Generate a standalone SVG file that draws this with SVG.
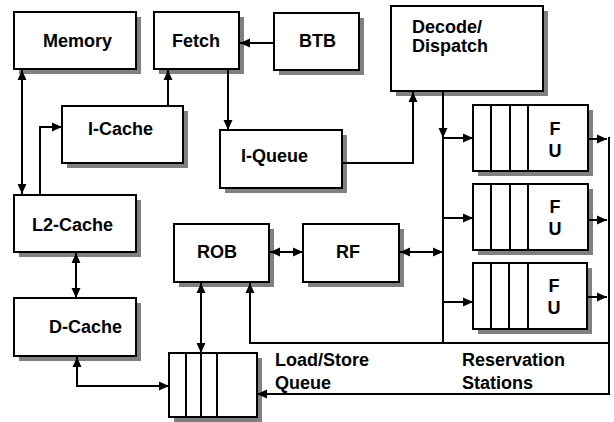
<svg xmlns="http://www.w3.org/2000/svg" width="614" height="422" viewBox="0 0 614 422">
<defs>
<marker id="ah" markerUnits="userSpaceOnUse" markerWidth="10" markerHeight="10" viewBox="0 0 9 8" refX="9" refY="4" orient="auto-start-reverse">
<path d="M0,0 L9,4 L0,8 z" fill="#000"/>
</marker>
</defs>
<style>
.sh{fill:#808080;stroke:none}
.bx{fill:#fff;stroke:#000;stroke-width:2}
.dv{stroke:#000;stroke-width:2}
.t{font-family:"Liberation Sans",Arial,sans-serif;font-weight:bold;font-size:18px;fill:#000}
.c{fill:none;stroke:#000;stroke-width:2}
.a{marker-end:url(#ah)}
.b{marker-start:url(#ah);marker-end:url(#ah)}
</style>
<rect width="614" height="422" fill="#fff"/>

<g id="memory">
<rect class="sh" x="19" y="17" width="122" height="57"/>
<rect class="bx" x="14" y="12" width="122" height="57"/>
<text class="t" x="43" y="47">Memory</text>
</g>
<g id="fetch">
<rect class="sh" x="159" y="17" width="85" height="57"/>
<rect class="bx" x="154" y="12" width="85" height="57"/>
<text class="t" x="172" y="47">Fetch</text>
</g>
<g id="btb">
<rect class="sh" x="279" y="18" width="85" height="57"/>
<rect class="bx" x="274" y="13" width="85" height="57"/>
<text class="t" x="299" y="47">BTB</text>
</g>
<g id="decode">
<rect class="sh" x="396" y="11" width="152" height="85"/>
<rect class="bx" x="391" y="6" width="152" height="85"/>
<text class="t" x="412" y="33">Decode/</text>
<text class="t" x="412" y="52">Dispatch</text>
</g>
<g id="icache">
<rect class="sh" x="67" y="111" width="121" height="57"/>
<rect class="bx" x="62" y="106" width="121" height="57"/>
<text class="t" x="88" y="135">I-Cache</text>
</g>
<g id="iqueue">
<rect class="sh" x="225" y="135" width="122" height="58"/>
<rect class="bx" x="220" y="130" width="122" height="58"/>
<text class="t" x="241" y="162">I-Queue</text>
</g>
<g id="l2cache">
<rect class="sh" x="19" y="200" width="122" height="57"/>
<rect class="bx" x="14" y="195" width="122" height="57"/>
<text class="t" x="32" y="231">L2-Cache</text>
</g>
<g id="dcache">
<rect class="sh" x="19" y="303" width="122" height="58"/>
<rect class="bx" x="14" y="298" width="122" height="58"/>
<text class="t" x="49" y="333">D-Cache</text>
</g>
<g id="rob">
<rect class="sh" x="179" y="229" width="95" height="58"/>
<rect class="bx" x="174" y="224" width="95" height="58"/>
<text class="t" x="197" y="258">ROB</text>
</g>
<g id="rf">
<rect class="sh" x="308" y="229" width="96" height="58"/>
<rect class="bx" x="303" y="224" width="96" height="58"/>
<text class="t" x="336" y="258">RF</text>
</g>
<g id="fu1">
<rect class="sh" x="478" y="110" width="115" height="66"/>
<rect class="bx" x="473" y="105" width="115" height="66"/>
<line class="dv" x1="491" y1="105" x2="491" y2="171"/>
<line class="dv" x1="510" y1="105" x2="510" y2="171"/>
<line class="dv" x1="528" y1="105" x2="528" y2="171"/>
<text class="t" x="555" y="135" text-anchor="middle">F</text>
<text class="t" x="555" y="157" text-anchor="middle">U</text>
</g>
<g id="fu2">
<rect class="sh" x="478" y="189" width="115" height="66"/>
<rect class="bx" x="473" y="184" width="115" height="66"/>
<line class="dv" x1="491" y1="184" x2="491" y2="250"/>
<line class="dv" x1="510" y1="184" x2="510" y2="250"/>
<line class="dv" x1="528" y1="184" x2="528" y2="250"/>
<text class="t" x="555" y="213" text-anchor="middle">F</text>
<text class="t" x="555" y="235" text-anchor="middle">U</text>
</g>
<g id="fu3">
<rect class="sh" x="478" y="268" width="114" height="66"/>
<rect class="bx" x="473" y="263" width="114" height="66"/>
<line class="dv" x1="491" y1="263" x2="491" y2="329"/>
<line class="dv" x1="509" y1="263" x2="509" y2="329"/>
<line class="dv" x1="528" y1="263" x2="528" y2="329"/>
<text class="t" x="554" y="292" text-anchor="middle">F</text>
<text class="t" x="554" y="314" text-anchor="middle">U</text>
</g>
<g id="lsq">
<rect class="sh" x="174" y="358" width="88" height="64"/>
<rect class="bx" x="169" y="353" width="88" height="64"/>
<line class="dv" x1="186" y1="353" x2="186" y2="417"/>
<line class="dv" x1="201" y1="353" x2="201" y2="417"/>
<line class="dv" x1="217" y1="353" x2="217" y2="417"/>
</g>
<g id="labels">
<text class="t" x="275" y="366">Load/Store</text>
<text class="t" x="275" y="389">Queue</text>
<text class="t" x="462" y="366">Reservation</text>
<text class="t" x="462" y="389">Stations</text>
</g>

<g id="connectors">
<path class="c a" d="M274,43 H240"/>
<path class="c b" d="M22,70 V194"/>
<path class="c a" d="M168,106 V70"/>
<path class="c a" d="M40,195 V127 H62"/>
<path class="c a" d="M228,69 V130"/>
<path class="c a" d="M342,163 H413 V92"/>
<path class="c a" d="M443,91 V138"/>
<path class="c" d="M443,137 V343"/>
<path class="c a" d="M443,138 H473"/>
<path class="c a" d="M443,218 H473"/>
<path class="c a" d="M443,302 H473"/>
<path class="c b" d="M400,252 H443"/>
<path class="c b" d="M270,252 H303"/>
<path class="c a" d="M588,139 H607"/>
<path class="c a" d="M588,220 H607"/>
<path class="c a" d="M587,297 H607"/>
<path class="c a" d="M609,137 V394 H257"/>
<path class="c a" d="M609,343 H250 V283"/>
<path class="c b" d="M201,283 V353"/>
<path class="c b" d="M76,253 V298"/>
<path class="c b" d="M77,357 V386 H169"/>
</g>
</svg>
